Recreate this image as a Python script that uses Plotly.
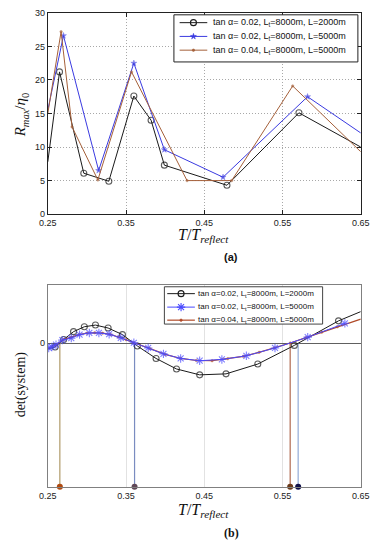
import plotly.graph_objects as go

# ---------------- panel (a) data ----------------
a_black_x = [0.25, 0.265, 0.296, 0.328, 0.360, 0.382, 0.399, 0.479, 0.571, 0.65]
a_black_y = [7.8, 21.2, 6.1, 4.9, 17.6, 14.0, 7.3, 4.3, 15.1, 10.0]
a_blue_x = [0.25, 0.270, 0.315, 0.360, 0.399, 0.474, 0.582, 0.65]
a_blue_y = [15.5, 26.6, 6.5, 22.5, 9.6, 5.5, 17.5, 12.1]
a_brown_x = [0.25, 0.267, 0.281, 0.314, 0.357, 0.428, 0.485, 0.563, 0.65]
a_brown_y = [15.0, 27.2, 13.0, 5.1, 21.2, 5.0, 5.0, 19.1, 9.3]

# ---------------- panel (b) data ----------------
b_black_x = [0.25, 0.2593, 0.2703, 0.2829, 0.2967, 0.3109, 0.3271, 0.3454, 0.3645, 0.3884,
             0.4145, 0.4441, 0.4778, 0.5184, 0.5651, 0.6216, 0.65]
b_black_y = [-0.6, -0.4, 0.36, 1.16, 1.66, 1.83, 1.53, 0.86, -0.3, -1.57,
             -2.64, -3.24, -3.14, -2.14, -0.24, 2.26, 3.2]
b_blue_x = [0.2512, 0.2552, 0.2605, 0.2686, 0.2800, 0.2906, 0.3031, 0.3153, 0.3284, 0.3433,
            0.3600, 0.3783, 0.3978, 0.4198, 0.4441, 0.4725, 0.5038, 0.5404, 0.5822, 0.6297]
b_blue_y = [-0.5, -0.4, -0.17, 0.3, 0.5, 0.86, 1.03, 1.03, 0.9, 0.53,
            0.03, -0.5, -1.1, -1.57, -1.8, -1.67, -1.3, -0.5, 0.6, 2.0]
b_brown_x = [0.25, 0.26, 0.27, 0.28, 0.29, 0.30, 0.31, 0.32, 0.33, 0.34, 0.35, 0.36, 0.38,
             0.40, 0.42, 0.44, 0.46, 0.48, 0.50, 0.52, 0.54, 0.56, 0.58, 0.60, 0.62, 0.65]
b_brown_y = [-0.55, -0.2, 0.35, 0.6, 0.85, 1.0, 1.05, 1.0, 0.88, 0.62, 0.35, 0.03, -0.55,
             -1.15, -1.57, -1.78, -1.8, -1.6, -1.35, -0.95, -0.5, 0.0, 0.55, 1.1, 1.65, 2.43]
roots_x = [0.2654, 0.3609, 0.5598, 0.5700]
root_line_colors = ["#b09a6a", "#7a8cc0", "#b06a50", "#92abd6"]
root_dot_colors = ["#b04a10", "#604858", "#6a3a1a", "#101048"]

x_ticks = [0.25, 0.35, 0.45, 0.55, 0.65]
a_y_ticks = [0, 5, 10, 15, 20, 25, 30]

legend_a = ["tan α= 0.02, L<sub>t</sub>=8000m, L=2000m",
            "tan α= 0.02, L<sub>t</sub>=8000m, L=5000m",
            "tan α= 0.04, L<sub>t</sub>=8000m, L=5000m"]
legend_b = ["tan α=0.02, L<sub>t</sub>=8000m, L=2000m",
            "tan α=0.02, L<sub>t</sub>=8000m, L=5000m",
            "tan α=0.04, L<sub>t</sub>=8000m, L=5000m"]

W, H = 385, 550
XR = [0.25, 0.65]
B_YR = [-14.64, 5.93]

BLACK = "#1a1a1a"
BLUE = "#3a3ae0"
BROWN = "#a5603a"
B_BLUE = "#4a4aff"
B_BROWN = "#b04a28"

SANS = "Liberation Sans, Arial, sans-serif"
SERIF = "Liberation Serif, DejaVu Serif, serif"


def edge_sizes(xs, s):
    return [0 if (x <= XR[0] or x >= XR[1]) else s for x in xs]


styles_a = [
    dict(line=dict(color=BLACK, width=1), symbol="circle-open", size=6, color=BLACK),
    dict(line=dict(color=BLUE, width=1), symbol="star", size=4.5, color=BLUE),
    dict(line=dict(color=BROWN, width=1), symbol="circle", size=2.5, color=BROWN),
]
styles_b = [
    dict(line=dict(color=BLACK, width=1), symbol="circle-open", size=6, color=BLACK),
    dict(line=dict(color=B_BLUE, width=1), symbol="asterisk-open", size=7, color=B_BLUE),
    dict(line=dict(color=B_BROWN, width=1.2), symbol="circle", size=2.5, color=B_BROWN),
]


def mk(st, sizes):
    return dict(symbol=st["symbol"], size=sizes, color=st["color"],
                line=dict(width=1.1 if "open" in st["symbol"] else 0.5, color=st["color"]))


fig = go.Figure()

# ---- panel (a)
for xs, ys, st in zip([a_black_x, a_blue_x, a_brown_x], [a_black_y, a_blue_y, a_brown_y], styles_a):
    fig.add_trace(go.Scatter(x=xs, y=ys, mode="lines+markers", line=st["line"],
                             marker=mk(st, edge_sizes(xs, st["size"])),
                             xaxis="x", yaxis="y", showlegend=False))

# ---- panel (b) root lines
for rx, lc, dc in zip(roots_x, root_line_colors, root_dot_colors):
    fig.add_trace(go.Scatter(x=[rx, rx], y=[0, B_YR[0]], mode="lines",
                             line=dict(color=lc, width=1.2), showlegend=False,
                             xaxis="x2", yaxis="y2", hoverinfo="skip"))
    fig.add_trace(go.Scatter(x=[rx], y=[B_YR[0]], mode="markers",
                             marker=dict(symbol="circle", size=6, color=dc),
                             cliponaxis=False, showlegend=False,
                             xaxis="x2", yaxis="y2"))

for xs, ys, st in zip([b_black_x, b_brown_x, b_blue_x], [b_black_y, b_brown_y, b_blue_y],
                      [styles_b[0], styles_b[2], styles_b[1]]):
    fig.add_trace(go.Scatter(x=xs, y=ys, mode="lines+markers", line=st["line"],
                             marker=mk(st, edge_sizes(xs, st["size"])),
                             xaxis="x2", yaxis="y2", showlegend=False))


# ---- hand-built legends on a pixel-scaled overlay axis (x3/y3)
def legend_block(box, row_y, sample_x, text_x, labels, styles, fsize, bcolor):
    x0, y0, x1, y1 = box
    fig.add_trace(go.Scatter(x=[x0, x1, x1, x0, x0], y=[y0, y0, y1, y1, y0], mode="lines",
                             fill="toself", fillcolor="white", line=dict(color=bcolor, width=1),
                             xaxis="x3", yaxis="y3", showlegend=False, hoverinfo="skip"))
    for ry, lab, st in zip(row_y, labels, styles):
        fig.add_trace(go.Scatter(x=[sample_x[0], sample_x[1]], y=[ry, ry], mode="lines",
                                 line=st["line"], xaxis="x3", yaxis="y3", showlegend=False,
                                 hoverinfo="skip"))
        fig.add_trace(go.Scatter(x=[(sample_x[0] + sample_x[1]) / 2], y=[ry], mode="markers",
                                 marker=mk(st, st["size"]), xaxis="x3", yaxis="y3",
                                 showlegend=False, hoverinfo="skip"))
        fig.add_annotation(xref="paper", yref="paper", x=text_x / W, y=1 - ry / H,
                           xanchor="left", yanchor="middle", text=lab, showarrow=False,
                           font=dict(family=SANS, size=fsize, color="#111"))


legend_block((173, 10, 366, 58), [18, 32, 46], (179, 208), 212, legend_a, styles_a, 9, "#222")
legend_block((163, 287, 329, 325), [294, 307.7, 321], (166, 195), 196.5, legend_b, styles_b, 8, "#444")

tickfont = dict(family=SANS, size=9, color="#222")
GRID_A = dict(showgrid=True, gridcolor="#a8a8a8", griddash="1px,2px", gridwidth=1)

fig.update_layout(
    width=W, height=H,
    margin=dict(l=0, r=0, t=0, b=0),
    paper_bgcolor="white", plot_bgcolor="rgba(0,0,0,0)",
    showlegend=False,
    xaxis=dict(domain=[40.7 / W, 369 / W], range=XR, tickvals=x_ticks,
               ticktext=[f"{v:.2f}" for v in x_ticks], tickfont=tickfont,
               showline=True, mirror="ticks", linecolor="#222", linewidth=1,
               ticks="inside", ticklen=4, tickcolor="#222",
               zeroline=False, anchor="y", **GRID_A),
    yaxis=dict(domain=[1 - 213 / H, 1 - 8 / H], range=[0, 30], tickvals=a_y_ticks,
               tickfont=tickfont,
               showline=True, mirror="ticks", linecolor="#222", linewidth=1,
               ticks="inside", ticklen=4, tickcolor="#222",
               zeroline=False, anchor="x", **GRID_A),
    xaxis2=dict(domain=[40.7 / W, 369 / W], range=XR, tickvals=x_ticks,
                ticktext=[f"{v:.2f}" for v in x_ticks], tickfont=tickfont,
                showline=True, mirror=True, linecolor="#808080", linewidth=1,
                ticks="", showgrid=True, gridcolor="#e2e2e2", gridwidth=1,
                zeroline=False, anchor="y2"),
    yaxis2=dict(domain=[1 - 490.7 / H, 1 - 285 / H], range=B_YR, tickvals=[0],
                tickfont=tickfont,
                showline=True, mirror=True, linecolor="#808080", linewidth=1,
                ticks="", showgrid=False,
                zeroline=True, zerolinecolor="#606060", zerolinewidth=1, anchor="x2"),
    xaxis3=dict(domain=[0, 1], range=[0, W], visible=False, anchor="y3", fixedrange=True),
    yaxis3=dict(domain=[0, 1], range=[H, 0], visible=False, anchor="x3", fixedrange=True),
)


def label(text, px, py, font, angle=0):
    fig.add_annotation(xref="paper", yref="paper", x=px / W, y=1 - py / H, text=text,
                       xanchor="center", yanchor="middle", textangle=angle,
                       showarrow=False, font=font)


xtitle = "<i>T</i>/<i>T</i><sub><i>reflect</i></sub>"
label(xtitle, 204, 235, dict(family=SERIF, size=16, color="#111"))
label(xtitle, 204, 515, dict(family=SERIF, size=16, color="#111"))
label("<b>(a)</b>", 233, 257, dict(family=SANS, size=11, color="#111"))
label("<b>(b)</b>", 233, 538, dict(family=SERIF, size=12, color="#111"))
label("<i>R</i><sub><i>max</i></sub>/<i>η</i><sub>0</sub>", 13, 112,
      dict(family=SERIF, size=15, color="#111"), angle=-90)
label("det(system)", 13, 386, dict(family=SERIF, size=14, color="#111"), angle=-90)

fig.write_html("out.html", post_script="document.body.style.margin='0px';",
               config={"displayModeBar": False})
